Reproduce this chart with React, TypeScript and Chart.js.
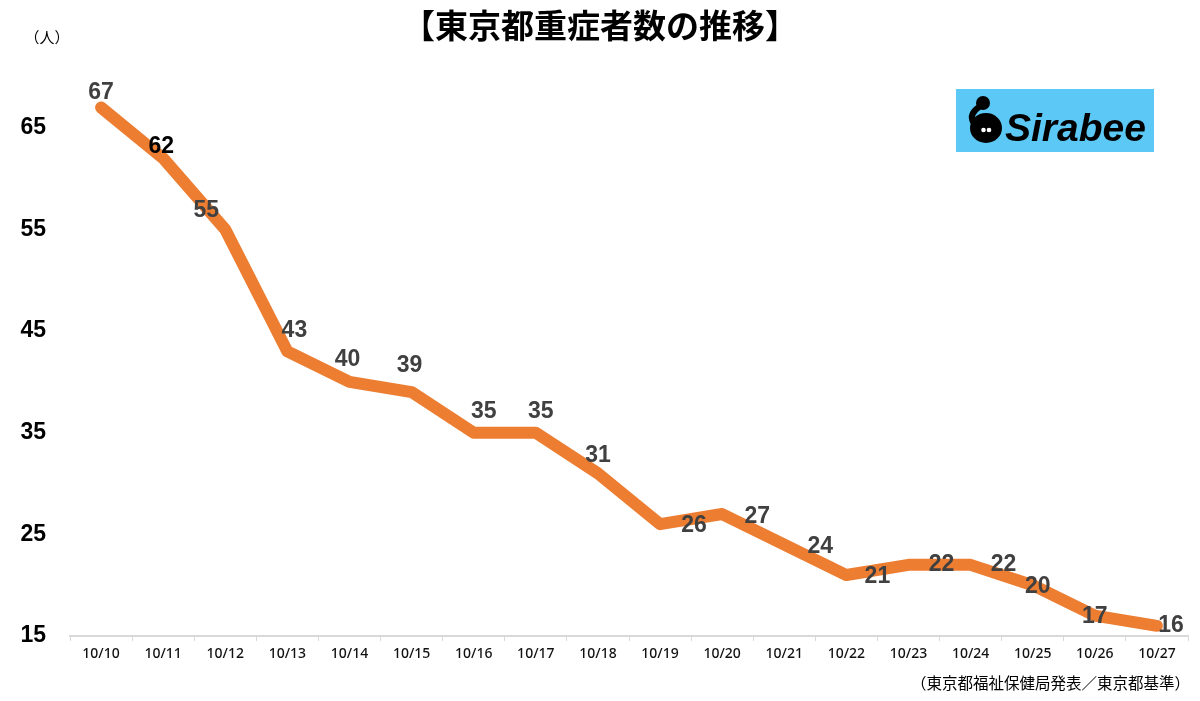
import React, { useEffect, useRef } from "react";
import { Chart, registerables } from "chart.js";

Chart.register(...registerables);

const categories = ["10/10","10/11","10/12","10/13","10/14","10/15","10/16","10/17","10/18","10/19","10/20","10/21","10/22","10/23","10/24","10/25","10/26","10/27"];
const severeCases = [67,62,55,43,40,39,35,35,31,26,27,24,21,22,22,20,17,16];
const yTicks = [15,25,35,45,55,65];
const title = "【東京都重症者数の推移】";
const unitLabel = "（人）";
const sourceNote = "（東京都福祉保健局発表／東京都基準）";
const logoText = "Sirabee";
// label offsets (px) relative to each point, as placed in the reference
const labelOffsets: [number, number][] = [
  [0,-15],[-2,-12],[-19,-19],[7,-21],[-2,-22],[-2,-26],[10,-21],[5,-21],[0,-18],
  [34,1],[35,3],[36,2],[31,2],[33,0],[33,0],[5,1],[0,1],[14,0]
];

const overlay = {
  id: "overlay",
  afterDatasetsDraw(chart: any) {
    const ctx = chart.ctx;
    const meta = chart.getDatasetMeta(0);
    ctx.save();
    // data labels
    ctx.font = "bold 23px 'Liberation Sans', Arial, sans-serif";
    ctx.textAlign = "center";
    ctx.textBaseline = "middle";
    meta.data.forEach((pt: any, i: number) => {
      const [dx, dy] = labelOffsets[i] || [0, -18];
      ctx.fillStyle = i === 1 ? "#000000" : "#404040";
      ctx.fillText(String(severeCases[i]), pt.x + dx, pt.y + dy);
    });
    // title
    ctx.fillStyle = "#000";
    ctx.font = "bold 33px 'Noto Sans CJK JP', sans-serif";
    ctx.fillText(title, 600, 25);
    // unit
    ctx.font = "15px 'Noto Sans CJK JP', sans-serif";
    ctx.fillText(unitLabel, 47, 37);
    // source
    ctx.textAlign = "right";
    ctx.font = "15.5px 'Noto Sans CJK JP', sans-serif";
    ctx.fillText(sourceNote, 1190, 683);
    // logo
    ctx.fillStyle = "#5BC8F5";
    ctx.fillRect(956, 89, 198, 63);
    ctx.fillStyle = "#000";
    ctx.beginPath();
    ctx.ellipse(986, 128, 16, 15, 0, 0, Math.PI * 2);
    ctx.fill();
    ctx.beginPath();
    ctx.arc(983, 103, 7, 0, Math.PI * 2);
    ctx.fill();
    ctx.lineWidth = 6;
    ctx.strokeStyle = "#000";
    ctx.lineCap = "round";
    ctx.beginPath();
    ctx.moveTo(979, 107);
    ctx.quadraticCurveTo(969, 114, 973, 122);
    ctx.stroke();
    ctx.fillStyle = "#fff";
    ctx.beginPath();
    ctx.arc(983.5, 130, 2.3, 0, Math.PI * 2);
    ctx.fill();
    ctx.beginPath();
    ctx.arc(989, 130, 2.3, 0, Math.PI * 2);
    ctx.fill();
    ctx.fillStyle = "#000";
    ctx.textAlign = "left";
    ctx.textBaseline = "alphabetic";
    ctx.font = "italic bold 39px 'Liberation Sans', Arial, sans-serif";
    ctx.fillText(logoText, 1005, 141);
    ctx.restore();
  },
};

export default function App() {
  const ref = useRef<HTMLCanvasElement>(null);
  useEffect(() => {
    document.body.style.margin = "0";
    const chart = new Chart(ref.current!, {
      type: "line",
      data: {
        labels: categories,
        datasets: [
          {
            data: severeCases,
            borderColor: "#ED7D31",
            borderWidth: 12,
            borderJoinStyle: "round",
            borderCapStyle: "round",
            pointRadius: 0,
            tension: 0,
            fill: false,
          },
        ],
      },
      options: {
        animation: false,
        responsive: false,
        maintainAspectRatio: false,
        layout: { padding: { top: 77, right: 12, left: 0, bottom: 0 } },
        plugins: { legend: { display: false }, tooltip: { enabled: false }, title: { display: false } },
        scales: {
          x: {
            offset: true,
            grid: { display: true, drawOnChartArea: false, drawTicks: true, tickLength: 5, offset: true, color: "#d9d9d9", lineWidth: 1 },
            border: { display: true, color: "#d9d9d9", width: 2 },
            ticks: { color: "#111", font: { family: "'Noto Sans', sans-serif", size: 14, weight: "500" }, padding: 5, maxRotation: 0, autoSkip: false },
            afterFit: (s: any) => { s.height = 65; },
          },
          y: {
            min: 15,
            max: 70,
            grid: { display: false, drawTicks: false },
            border: { display: false },
            ticks: { stepSize: 10, color: "#000", font: { family: "'Liberation Sans', Arial, sans-serif", size: 23, weight: "bold" }, padding: 24 },
            afterBuildTicks: (s: any) => { s.ticks = yTicks.map((v) => ({ value: v })); },
            afterFit: (s: any) => { s.width = 70; },
          },
        },
      },
      plugins: [overlay],
    });
    return () => chart.destroy();
  }, []);
  return (
    <div style={{ width: 1200, height: 701 }}>
      <canvas ref={ref} width={1200} height={701} style={{ display: "block" }} />
    </div>
  );
}
